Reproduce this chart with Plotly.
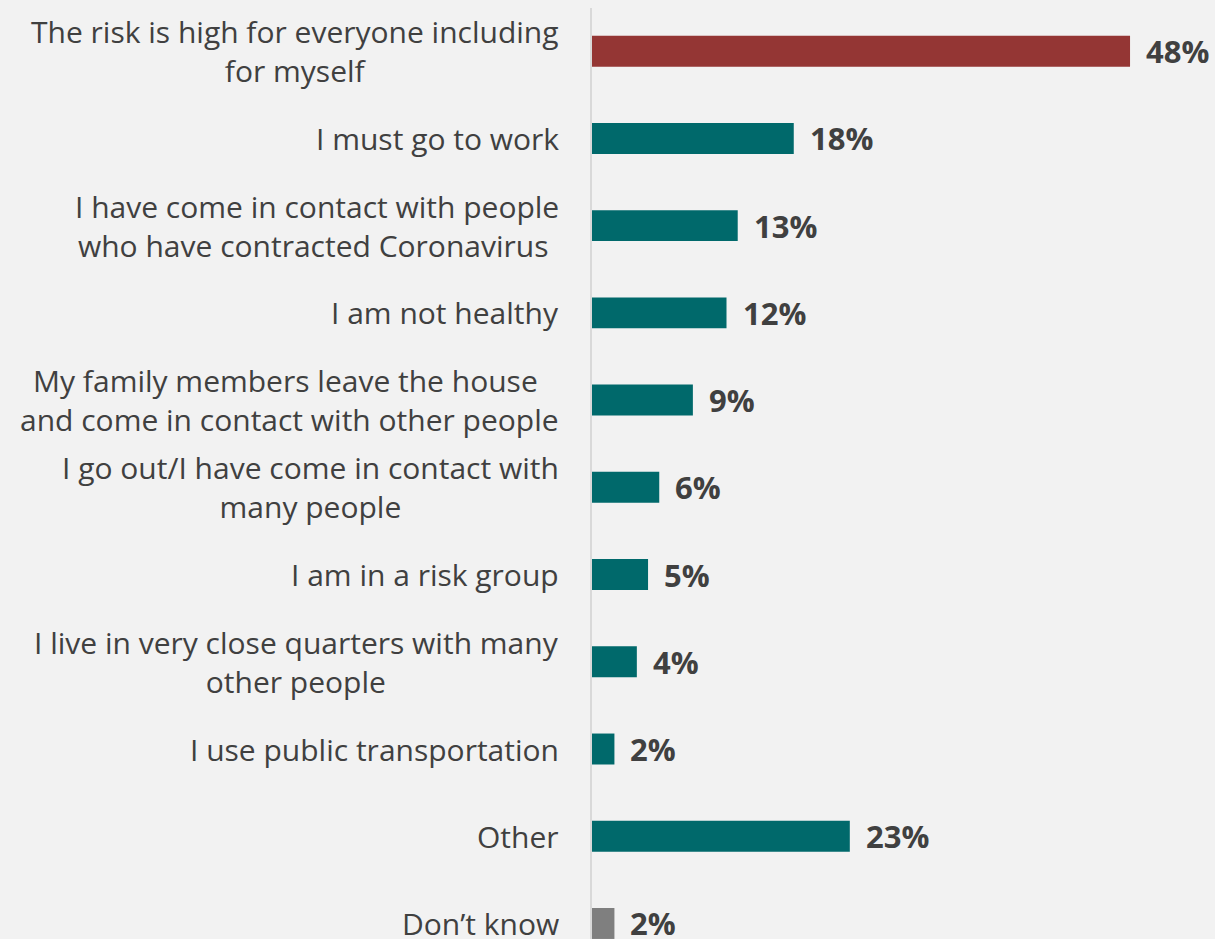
import plotly.graph_objects as go

categories = [
    "The risk is high for everyone including\nfor myself",
    "I must go to work",
    "I have come in contact with people\nwho have contracted Coronavirus ",
    "I am not healthy",
    "My family members leave the house \nand come in contact with other people",
    "I go out/I have come in contact with\nmany people",
    "I am in a risk group",
    "I live in very close quarters with many\nother people",
    "I use public transportation",
    "Other",
    "Don’t know",
]
values = [48, 18, 13, 12, 9, 6, 5, 4, 2, 23, 2]
bar_colors = ["#943634"] + ["#00696B"] * 9 + ["#7F7F7F"]

TEXT = "#404040"
FONT = "Open Sans"

def fmt(label):
    lines = label.split("\n")
    out = []
    for ln in lines:
        stripped = ln.rstrip(" ")
        out.append(stripped + "&nbsp;" * (len(ln) - len(stripped)))
    return "<br>".join(out)

fig = go.Figure()
fig.add_trace(go.Bar(
    x=values,
    y=categories,
    orientation="h",
    width=0.355,
    marker=dict(color=bar_colors, line=dict(width=0)),
    hoverinfo="skip",
))

annotations = []
for cat, v in zip(categories, values):
    annotations.append(dict(
        x=0, xref="paper", y=cat, yref="y",
        text=fmt(cat), showarrow=False,
        xanchor="right", yanchor="middle", align="center",
        xshift=-31,
        font=dict(family=FONT, size=30, color=TEXT),
    ))
    annotations.append(dict(
        x=v, xref="x", y=cat, yref="y",
        text=f"<b>{v}%</b>", showarrow=False,
        xanchor="left", yanchor="middle",
        xshift=14,
        font=dict(family=FONT, size=31, color=TEXT),
    ))

fig.update_layout(
    width=1215, height=939,
    margin=dict(l=592, r=0, t=8, b=0),
    paper_bgcolor="#F2F2F2",
    plot_bgcolor="#F2F2F2",
    showlegend=False,
    annotations=annotations,
    xaxis=dict(range=[0, 55.58], visible=False, fixedrange=True),
    yaxis=dict(
        type="category",
        categoryorder="array",
        categoryarray=categories,
        range=[10.178, -0.495],
        showticklabels=False,
        showgrid=False,
        zeroline=False,
        showline=True,
        linecolor="#D9D9D9",
        linewidth=2,
        ticks="",
        fixedrange=True,
    ),
)

fig.write_html(
    "out.html",
    config={"displayModeBar": False},
    post_script="document.body.style.margin='0';document.body.style.overflow='hidden';document.body.style.background='#F2F2F2';",
)
